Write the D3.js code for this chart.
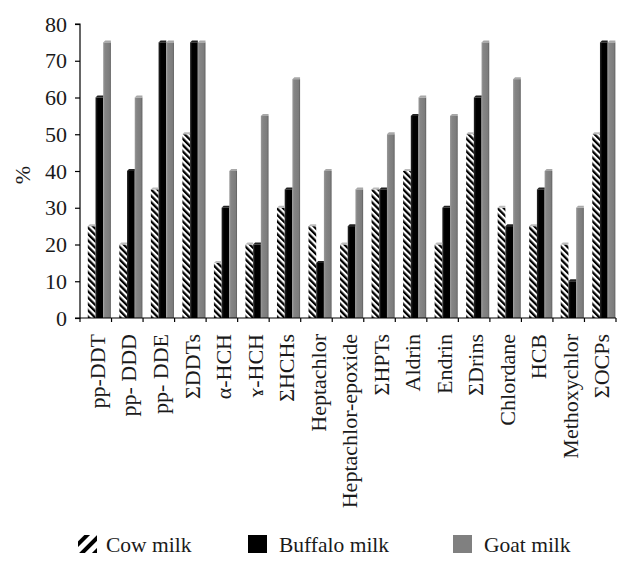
<!DOCTYPE html>
<html>
<head>
<meta charset="utf-8">
<script src="https://cdn.jsdelivr.net/npm/d3@7"></script>
<style>
  html, body { margin: 0; padding: 0; background: #fff; }
</style>
</head>
<body>
<svg id="chart" width="642" height="567"></svg>
<script>
const categories = ["pp-DDT", "pp- DDD", "pp- DDE", "ΣDDTs", "α-HCH", "ɤ-HCH", "ΣHCHs", "Heptachlor",
  "Heptachlor-epoxide", "ΣHPTs", "Aldrin", "Endrin", "ΣDrins", "Chlordane", "HCB", "Methoxychlor", "ΣOCPs"];
const cowMilk     = [25, 20, 35, 50, 15, 20, 30, 25, 20, 35, 40, 20, 50, 30, 25, 20, 50];
const buffaloMilk = [60, 40, 75, 75, 30, 20, 35, 15, 25, 35, 55, 30, 60, 25, 35, 10, 75];
const goatMilk    = [75, 60, 75, 75, 40, 55, 65, 40, 35, 50, 60, 55, 75, 65, 40, 30, 75];
const seriesNames = ["Cow milk", "Buffalo milk", "Goat milk"];
const yTicks = [0, 10, 20, 30, 40, 50, 60, 70, 80];

const FONT = "'Liberation Serif', 'DejaVu Serif', serif";
const TXT = "#1a1a1a";
const svg = d3.select("#chart");
const mLeft = 80, mRight = 616, mTop = 24, mBottom = 318;

const defs = svg.append("defs");
const pat = defs.append("pattern").attr("id", "stripes").attr("patternUnits", "userSpaceOnUse")
  .attr("width", 4.5).attr("height", 4.5).attr("patternTransform", "rotate(-45)");
pat.append("rect").attr("width", 4.5).attr("height", 4.5).attr("fill", "#fff");
pat.append("rect").attr("width", 2.3).attr("height", 4.5).attr("fill", "#000");

const patL = defs.append("pattern").attr("id", "stripesL").attr("patternUnits", "userSpaceOnUse")
  .attr("x", 78).attr("y", 535)
  .attr("width", 9).attr("height", 9).attr("patternTransform", "rotate(45)");
patL.append("rect").attr("width", 9).attr("height", 9).attr("fill", "#fff");
patL.append("rect").attr("width", 4).attr("height", 9).attr("fill", "#000");

const gGrad = defs.append("linearGradient").attr("id", "goatGrad").attr("x1", 0).attr("x2", 1).attr("y1", 0).attr("y2", 0);
gGrad.append("stop").attr("offset", "0%").attr("stop-color", "#9a9a9a");
gGrad.append("stop").attr("offset", "25%").attr("stop-color", "#858585");
gGrad.append("stop").attr("offset", "80%").attr("stop-color", "#7c7c7c");
gGrad.append("stop").attr("offset", "100%").attr("stop-color", "#5e5e5e");

const bGrad = defs.append("linearGradient").attr("id", "bufGrad").attr("x1", 0).attr("x2", 1).attr("y1", 0).attr("y2", 0);
bGrad.append("stop").attr("offset", "0%").attr("stop-color", "#2a2a2a");
bGrad.append("stop").attr("offset", "30%").attr("stop-color", "#000");
bGrad.append("stop").attr("offset", "100%").attr("stop-color", "#000");

const x = d3.scaleBand().domain(categories).range([mLeft, mRight]).padding(0);
const y = d3.scaleLinear().domain([0, 80]).range([mBottom, mTop]);

const data = categories.map((c, i) => ({ c, vals: [cowMilk[i], buffaloMilk[i], goatMilk[i]] }));
const fills = ["url(#stripes)", "url(#bufGrad)", "url(#goatGrad)"];
const capFills = ["#bbb", "#222", "#a8a8a8"];
const barW = 7.7;
const groupOffset = 7.8;

const groups = svg.append("g").selectAll("g").data(data).join("g")
  .attr("transform", d => `translate(${x(d.c) + groupOffset},0)`);
groups.selectAll("rect.bar").data(d => d.vals).join("rect")
  .attr("class", "bar")
  .attr("x", (v, j) => j * barW)
  .attr("y", v => y(v))
  .attr("width", barW)
  .attr("height", v => mBottom - y(v))
  .attr("fill", (v, j) => fills[j]);
groups.selectAll("path.cap").data(d => d.vals).join("path")
  .attr("class", "cap")
  .attr("d", (v, j) => {
    const x0 = j * barW, yy = y(v);
    return `M${x0},${yy} L${x0 + 2},${yy - 2} L${x0 + barW},${yy - 2} L${x0 + barW},${yy} Z`;
  })
  .attr("fill", (v, j) => capFills[j]);

// Y axis
const yAxis = d3.axisLeft(y).tickValues(yTicks).tickSize(5).tickPadding(8);
const gy = svg.append("g").attr("transform", `translate(${mLeft},0)`).call(yAxis)
  .attr("font-family", FONT);
gy.select(".domain").attr("stroke", "#000").attr("stroke-width", 1.2).attr("d", `M-5,${mTop}H0V${mBottom}H-5`);
gy.selectAll(".tick line").attr("stroke", "#000").attr("stroke-width", 1.2);
gy.selectAll(".tick text").style("font-size", "22px").style("font-family", FONT).attr("fill", TXT);

// X axis
const xAxis = d3.axisBottom(x).tickSize(0).tickFormat("");
const gx = svg.append("g").attr("transform", `translate(0,${mBottom})`).call(xAxis);
gx.select(".domain").attr("stroke", "#000").attr("stroke-width", 1.2).attr("d", `M${mLeft},0H${mRight}`);
const bounds = categories.map(c => x(c)).concat([mRight]);
gx.selectAll("line.bt").data(bounds).join("line").attr("class", "bt")
  .attr("x1", d => d).attr("x2", d => d).attr("y1", 0).attr("y2", 4)
  .attr("stroke", "#000").attr("stroke-width", 1.2);

svg.append("g").selectAll("text").data(categories).join("text")
  .attr("transform", d => `translate(${x(d) + x.bandwidth() / 2 + 1.5},334) rotate(-90)`)
  .attr("text-anchor", "end")
  .attr("dy", "0.35em")
  .attr("fill", TXT)
  .style("font-size", "22px")
  .style("font-family", FONT)
  .text(d => d);

// Y label
svg.append("text").attr("transform", "translate(22,175) rotate(-90)")
  .attr("text-anchor", "middle").attr("dy", "0.35em").attr("fill", TXT)
  .style("font-size", "22px").style("font-family", FONT).text("%");

// Legend
const legendItems = [
  { name: seriesNames[0], fill: "url(#stripesL)", sx: 78, tx: 106 },
  { name: seriesNames[1], fill: "#000", sx: 248, tx: 279 },
  { name: seriesNames[2], fill: "#808080", sx: 453, tx: 484 }
];
const lg = svg.append("g").selectAll("g").data(legendItems).join("g");
lg.append("rect").attr("x", d => d.sx).attr("y", 535).attr("width", 19).attr("height", 18).attr("fill", d => d.fill);
lg.append("text").attr("x", d => d.tx).attr("y", 552).attr("fill", TXT)
  .style("font-size", "21.5px").style("font-family", FONT).text(d => d.name);
</script>
</body>
</html>
